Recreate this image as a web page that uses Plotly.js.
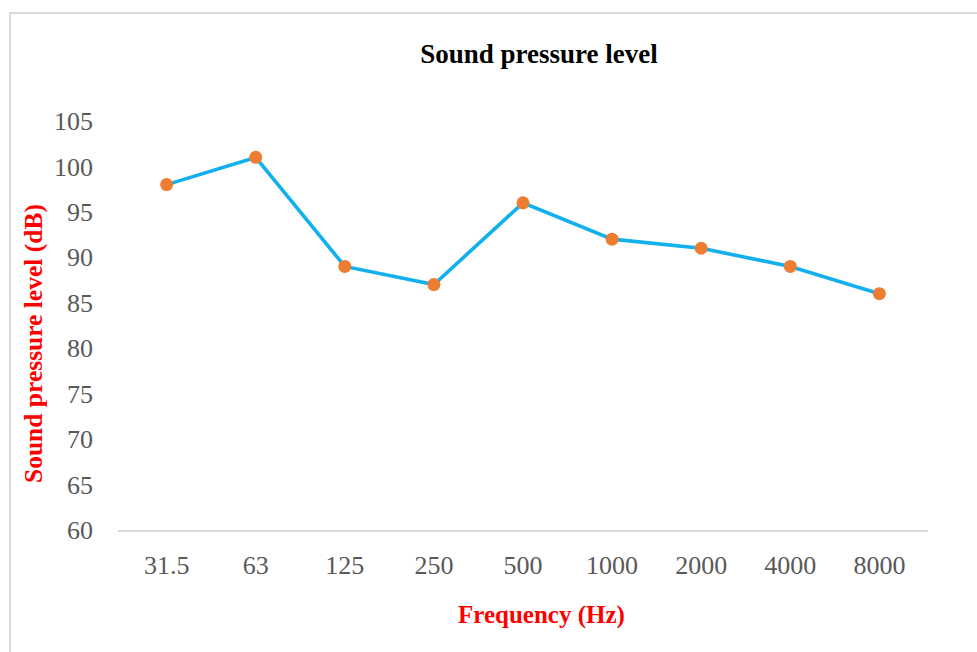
<!DOCTYPE html>
<html>
<head>
<meta charset="utf-8">
<script src="https://cdn.plot.ly/plotly-3.0.1.min.js"></script>
<style>
html,body{margin:0;padding:0;background:#fff;}
#frame{position:absolute;left:9px;top:12px;width:980px;height:650px;border-left:2px solid #d9d9d9;border-top:2px solid #d9d9d9;}
#chart{position:absolute;left:0;top:0;width:977px;height:652px;}
</style>
</head>
<body>
<div id="frame"></div>
<div id="chart"></div>
<script>
const frequencies = ["31.5", "63", "125", "250", "500", "1000", "2000", "4000", "8000"];
const soundLevels = [98, 101, 89, 87, 96, 92, 91, 89, 86];
const yTicks = [60, 65, 70, 75, 80, 85, 90, 95, 100, 105];
const chartTitle = 'Sound pressure level';
const xTitle = 'Frequency (Hz)';
const yTitle = 'Sound pressure level (dB)';

const trace = {
  x: frequencies,
  y: soundLevels,
  type: 'scatter',
  mode: 'lines+markers',
  line: {color: '#12b0ec', width: 3.6},
  marker: {color: '#ed7d31', size: 13},
  hoverinfo: 'x+y'
};

const W = 977, H = 652;
const layout = {
  width: W,
  height: H,
  paper_bgcolor: 'rgba(0,0,0,0)',
  plot_bgcolor: 'rgba(0,0,0,0)',
  margin: {l: 118, r: 49, t: 121, b: 122},
  showlegend: false,
  title: {
    text: '<b>' + chartTitle + '</b>',
    font: {family: 'Liberation Serif', size: 27, color: '#000'},
    x: 539 / W, xanchor: 'center', xref: 'container',
    y: 1 - 54 / H, yanchor: 'middle', yref: 'container'
  },
  xaxis: {
    type: 'category',
    showgrid: false,
    showline: true,
    linecolor: '#d9d9d9',
    linewidth: 2,
    ticks: '',
    zeroline: false,
    tickfont: {family: 'Liberation Serif', size: 26, color: '#595959'},
    ticklabelstandoff: 11,
    automargin: false
  },
  yaxis: {
    range: [60, 105],
    tickvals: yTicks,
    ticktext: yTicks.map(String),
    showgrid: false,
    showline: false,
    zeroline: false,
    ticks: '',
    tickfont: {family: 'Liberation Serif', size: 26, color: '#595959'},
    ticklabelstandoff: 24,
    automargin: false
  },
  annotations: [
    {
      text: '<b>' + xTitle + '</b>',
      font: {family: 'Liberation Serif', size: 25, color: '#ff0000'},
      xref: 'paper', yref: 'paper',
      x: (541 - 118) / 810, y: -(615 - 530) / 409,
      xanchor: 'center', yanchor: 'middle', showarrow: false
    },
    {
      text: '<b>' + yTitle + '</b>',
      font: {family: 'Liberation Serif', size: 25.5, color: '#ff0000'},
      textangle: -90,
      xref: 'paper', yref: 'paper',
      x: -(118 - 33) / 810, y: (530 - 344) / 409,
      xanchor: 'center', yanchor: 'middle', showarrow: false
    }
  ]
};

Plotly.newPlot('chart', [trace], layout, {displayModeBar: false, staticPlot: true});
</script>
</body>
</html>
